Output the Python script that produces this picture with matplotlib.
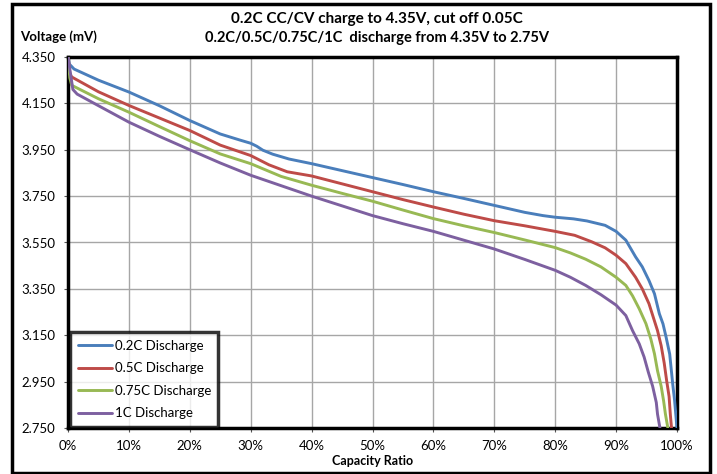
import matplotlib.pyplot as plt
from matplotlib.patches import Rectangle
from matplotlib.ticker import FixedLocator

plt.rcParams['font.family'] = ['Lato', 'DejaVu Sans']

# capacity ratio (%) / voltage (V)
x_02 = [0, 0.2, 1, 5, 10, 15, 20, 25, 28.2, 30, 31, 32, 33.6, 36.3, 40, 45, 50, 55, 60, 65, 70,
        75, 78, 80, 83, 85.2, 88.2, 90, 91.6, 93.2, 94.3, 95.4, 96.3, 97.1, 97.7, 98.2, 98.8,
        99.3, 99.6, 99.9, 100]
v_02 = [4.35, 4.32, 4.298, 4.25, 4.199, 4.14, 4.076, 4.018, 3.992, 3.978, 3.965, 3.948, 3.931,
        3.91, 3.89, 3.86, 3.83, 3.80, 3.769, 3.74, 3.71, 3.68, 3.666, 3.659, 3.652, 3.643, 3.624,
        3.598, 3.56, 3.488, 3.445, 3.386, 3.329, 3.243, 3.199, 3.143, 3.069, 2.939, 2.87, 2.78,
        2.75]

x_05 = [0, 0.3, 0.6, 5, 10, 15, 20, 25, 30, 31.5, 33, 36, 40, 45, 50, 55, 60, 65, 70, 75, 80,
        83.2, 86, 88.2, 90, 91.6, 93.2, 94.3, 95.4, 96.8, 97.4, 97.9, 98.3, 98.7, 98.9, 99.1]
v_05 = [4.35, 4.28, 4.264, 4.20, 4.141, 4.087, 4.033, 3.970, 3.925, 3.905, 3.885, 3.855, 3.837,
        3.803, 3.769, 3.735, 3.703, 3.672, 3.644, 3.622, 3.598, 3.581, 3.553, 3.527, 3.495,
        3.459, 3.40, 3.35, 3.286, 3.17, 3.105, 3.03, 2.954, 2.886, 2.81, 2.75]

x_075 = [0, 0.3, 0.6, 5, 10, 15, 20, 25, 30, 35, 40, 45, 50, 55, 60, 65, 70, 75, 80, 82.5,
         85, 87.5, 90, 91.6, 92.7, 93.8, 94.9, 95.7, 96.3, 96.8, 97.4, 97.8, 98.1, 98.5]
v_075 = [4.35, 4.26, 4.228, 4.17, 4.112, 4.05, 3.989, 3.932, 3.89, 3.835, 3.797, 3.762, 3.728,
         3.69, 3.653, 3.622, 3.593, 3.561, 3.528, 3.505, 3.478, 3.445, 3.40, 3.365, 3.32, 3.264,
         3.20, 3.134, 3.07, 2.997, 2.93, 2.867, 2.81, 2.75]

x_1 = [0, 0.4, 0.8, 1.5, 5, 10, 15, 20, 25, 30, 35, 40, 45, 50, 55, 60, 65, 70, 75, 80, 82.5,
       85, 87.5, 90, 91.6, 92.7, 93.8, 94.6, 95.3, 96, 96.6, 96.8, 97.2]
v_1 = [4.35, 4.28, 4.21, 4.19, 4.14, 4.069, 4.008, 3.95, 3.893, 3.84, 3.795, 3.75, 3.708, 3.666,
       3.631, 3.598, 3.56, 3.522, 3.477, 3.43, 3.40, 3.365, 3.325, 3.28, 3.235, 3.17, 3.113,
       3.056, 2.99, 2.93, 2.86, 2.81, 2.75]

series = [
    ('0.2C Discharge', x_02, v_02, '#4A7EBB'),
    ('0.5C Discharge', x_05, v_05, '#BE4B48'),
    ('0.75C Discharge', x_075, v_075, '#98B954'),
    ('1C Discharge', x_1, v_1, '#7D60A0'),
]

y_ticks = [2.75, 2.95, 3.15, 3.35, 3.55, 3.75, 3.95, 4.15, 4.35]
x_ticks = list(range(0, 101, 10))

fig = plt.figure(figsize=(7.17, 4.74), dpi=100)
ax = fig.add_axes([68 / 717, 1 - 428 / 474, (677 - 68) / 717, (428 - 57) / 474])

for label, xs, vs, col in series:
    ax.plot(xs, vs, color=col, lw=2.1, label=label, solid_joinstyle='round',
            solid_capstyle='round', zorder=3)

ax.set_xlim(0, 100)
ax.set_ylim(2.75, 4.35)
ax.xaxis.set_major_locator(FixedLocator(x_ticks))
ax.yaxis.set_major_locator(FixedLocator(y_ticks))
ax.set_xticklabels(['%d%%' % t for t in x_ticks])
ax.set_yticklabels(['%.3f' % t for t in y_ticks])
ax.tick_params(labelsize=9.5, length=3, width=0.8, color='#555555', pad=6)
ax.grid(True, color='#A6A6A6', lw=1.0, zorder=0)
for s in ax.spines.values():
    s.set_linewidth(2.5)
    s.set_color('black')

ax.set_xlabel('Capacity Ratio', fontsize=9, fontweight='bold', labelpad=2)
fig.text(20 / 717, 1 - 37 / 474, 'Voltage (mV)', fontsize=9.5, fontweight='bold', va='center')
fig.text(377 / 717, 1 - 19 / 474, '0.2C CC/CV charge to 4.35V, cut off 0.05C',
         fontsize=11, fontweight='bold', ha='center', va='center')
fig.text(377 / 717, 1 - 38 / 474, '0.2C/0.5C/0.75C/1C  discharge from 4.35V to 2.75V',
         fontsize=10.5, fontweight='bold', ha='center', va='center')

leg = ax.legend(loc='lower left', bbox_to_anchor=(0.004, 0.004), fontsize=9.5, frameon=True,
                fancybox=False, handlelength=2.6, handletextpad=0.2, labelspacing=0.8,
                borderpad=0.55, borderaxespad=0)
leg.get_frame().set_edgecolor('black')
leg.get_frame().set_linewidth(2.5)

# outer chart border
fig.patches.append(Rectangle((12 / 717, 1 - 473 / 474), 698 / 717, 469.5 / 474,
                             transform=fig.transFigure, fill=False, lw=2.5, ec='black'))

fig.savefig('out.png', dpi=100)
